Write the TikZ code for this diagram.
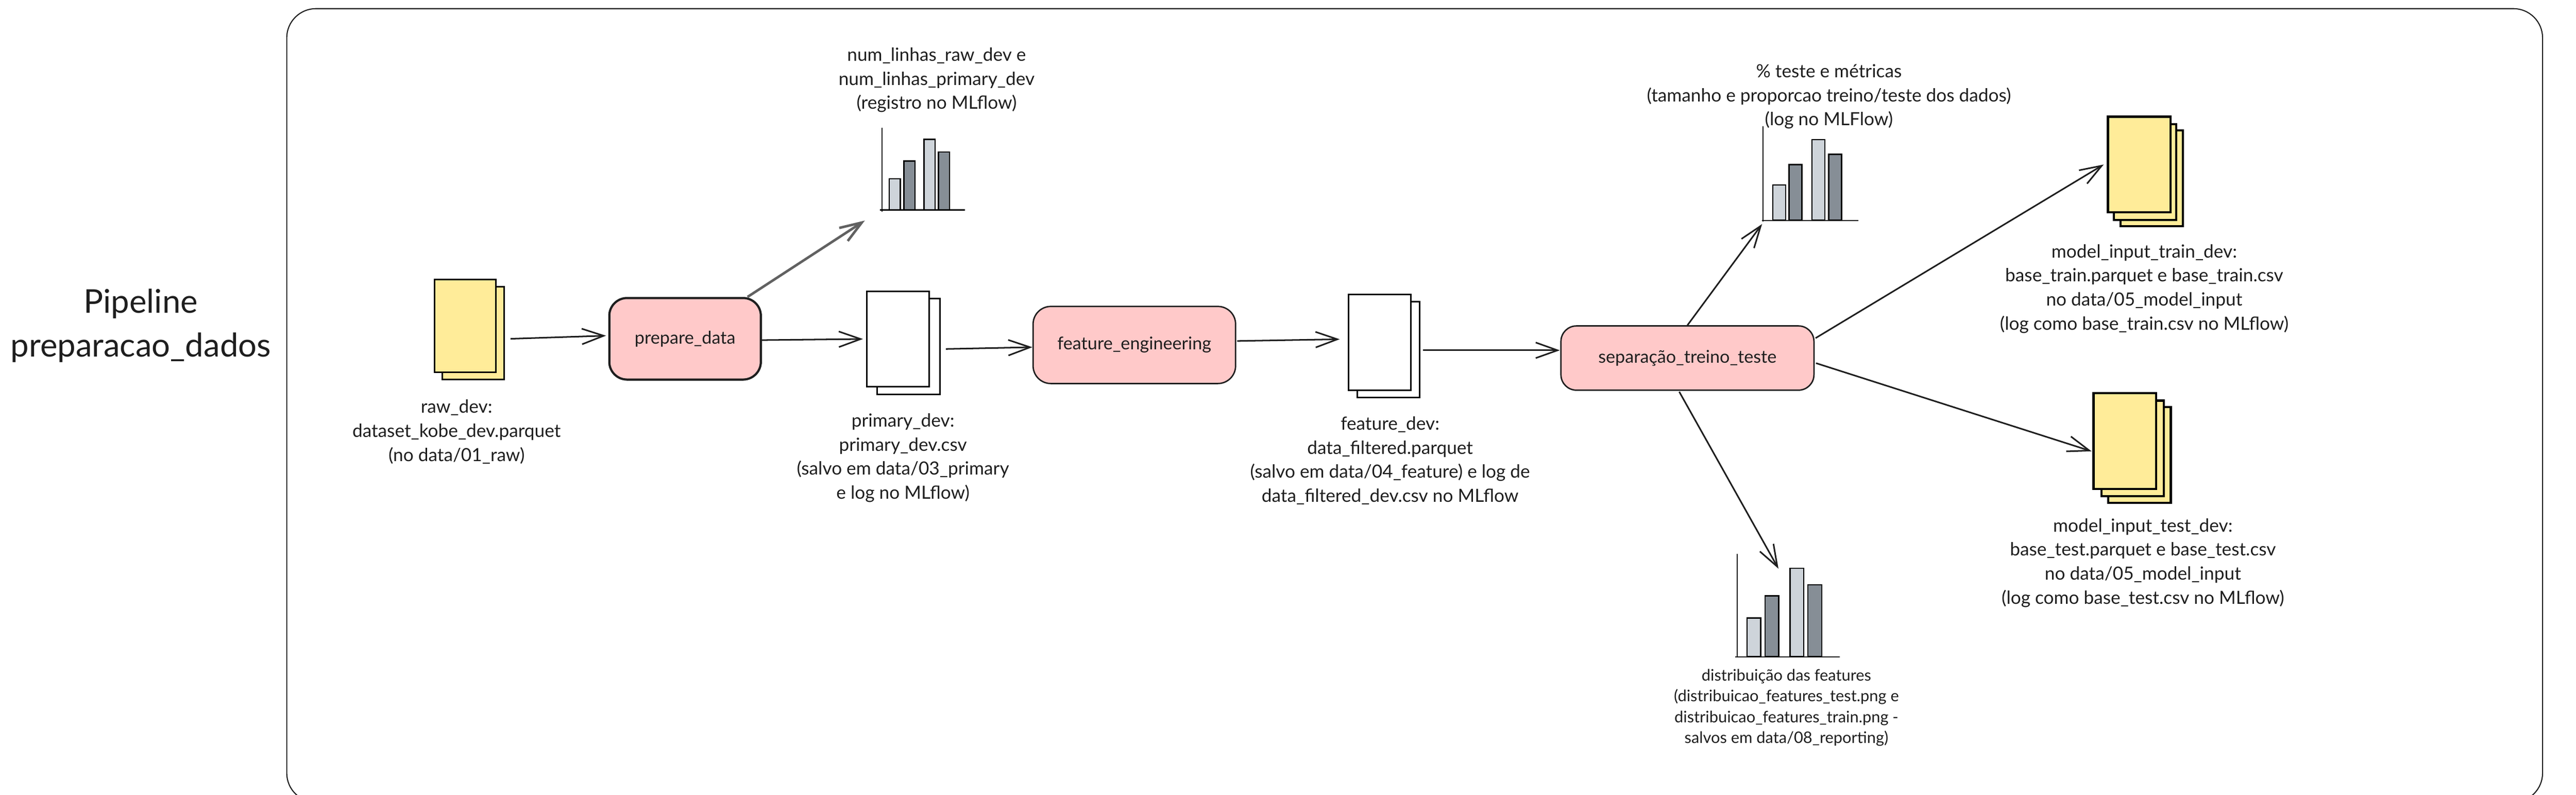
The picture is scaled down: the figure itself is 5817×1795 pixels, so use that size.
\documentclass[tikz,border=0pt]{standalone}
\usepackage{fontspec}
\setmainfont{Lato}
\usetikzlibrary{arrows.meta,positioning}

\definecolor{ink}{HTML}{1E1E1E}
\definecolor{paper}{HTML}{FFEC99}
\definecolor{rose}{HTML}{FFC9C9}
\definecolor{barlight}{HTML}{CED4DA}
\definecolor{bardark}{HTML}{868E96}

\begin{document}
\begin{tikzpicture}[x=0.01cm, y=-0.01cm]
			\tikzstyle{Frame}	= [draw=ink, line width=0.7pt, rounded corners=0.66cm, minimum width=50.91cm, minimum height=17.91cm, inner sep=0pt]
			\tikzstyle{Task}	= [draw=ink, fill=rose, rounded corners=0.4cm, inner sep=0pt, text=ink, font=\fontsize{11.3}{13}\selectfont]
			\tikzstyle{Sheet}	= [draw=black, fill=white, line width=1pt, minimum width=1.41cm, minimum height=2.16cm, inner sep=0pt]
			\tikzstyle{Yellow}	= [fill=paper]
			\tikzstyle{Heavy}	= [line width=1.4pt]
			\tikzstyle{Bar}		= [draw=black, line width=0.8pt, anchor=south, inner sep=0pt]
			\tikzstyle{Light}	= [fill=barlight]
			\tikzstyle{Dark}	= [fill=bardark]
			\tikzstyle{Axis}	= [draw=black, line width=0.8pt]
			\tikzstyle{Flow}	= [draw=ink, line width=1pt, -{Straight Barb[length=14pt, width=10pt]}]
			\tikzstyle{Faded}	= [draw=ink!70, line width=1.6pt]
			\tikzstyle{Caption}	= [align=center, text=ink, inner sep=0pt, font=\fontsize{11.66}{15.4}\selectfont]
			\tikzstyle{Small}	= [font=\fontsize{10.2}{13.4}\selectfont]
			\tikzstyle{Title}	= [align=center, text=ink, inner sep=0pt, font=\fontsize{21}{28}\selectfont]

			\useasboundingbox (0,0) rectangle (5817,1795);

			\node (frame) at (3194.5,915.5) [Frame] {};
			\node (title) at (318,735) [Title] {Pipeline\\preparacao\_dados};

			\node (rawback) at (1068.5,752) [Sheet][Yellow][minimum width=1.39cm, minimum height=2.10cm] {};
			\node (rawfront) at (1050.5,736) [Sheet][Yellow][minimum width=1.39cm, minimum height=2.10cm] {};
			\node (rawtext) at (1031,975) [Caption] {raw\_dev:\\dataset\_kobe\_dev.parquet\\(no data/01\_raw)};

			\node (prepare) at (1547,765) [Task][line width=1.4pt, minimum width=3.42cm, minimum height=1.84cm] {prepare\_data};

			\node (primback) at (2051.5,782) [Sheet] {};
			\node (primfront) at (2028,765.5) [Sheet] {};
			\node (primtext) at (2039,1034) [Caption] {primary\_dev:\\primary\_dev.csv\\(salvo em data/03\_primary\\e log no MLflow)};

			\node (feature) at (2561.5,779) [Task][line width=0.9pt, minimum width=4.57cm, minimum height=1.74cm] {feature\_engineering};

			\node (featback) at (3135,789) [Sheet] {};
			\node (featfront) at (3115.5,773) [Sheet] {};
			\node (feattext) at (3139,1040) [Caption] {feature\_dev:\\data\_filtered.parquet\\(salvo em data/04\_feature) e log de\\data\_filtered\_dev.csv no MLflow};

			\node (split) at (3810.5,808.5) [Task][line width=0.9pt, rounded corners=0.35cm, minimum width=5.71cm, minimum height=1.45cm] {separação\_treino\_teste};

			\node (trainback) at (4859,402.5) [Sheet][Yellow][Heavy] {};
			\node (trainmid) at (4844,388.5) [Sheet][Yellow][Heavy] {};
			\node (trainfront) at (4830.5,371.5) [Sheet][Yellow][Heavy] {};
			\node (traintext) at (4842,652) [Caption] {model\_input\_train\_dev:\\base\_train.parquet e base\_train.csv\\no data/05\_model\_input\\(log como base\_train.csv no MLflow)};

			\node (testback) at (4831.5,1027) [Sheet][Yellow][Heavy] {};
			\node (testmid) at (4816,1012.5) [Sheet][Yellow][Heavy] {};
			\node (testfront) at (4798,996) [Sheet][Yellow][Heavy] {};
			\node (testtext) at (4839,1271) [Caption] {model\_input\_test\_dev:\\base\_test.parquet e base\_test.csv\\no data/05\_model\_input\\(log como base\_test.csv no MLflow)};

			\coordinate (lines-top) at (1992,289);
			\coordinate (lines-bot) at (1992,478);
			\coordinate (lines-left) at (1987,474);
			\coordinate (lines-right) at (2179,474);
			\draw [Axis] (lines-top) -- (lines-bot);
			\draw [Axis] (lines-left) -- (lines-right);
			\node (lines1) at (2020.5,475) [Bar][Light][minimum width=0.25cm, minimum height=0.70cm] {};
			\node (lines2) at (2053.5,475) [Bar][Dark][minimum width=0.25cm, minimum height=1.10cm] {};
			\node (lines3) at (2099,475) [Bar][Light][minimum width=0.25cm, minimum height=1.59cm] {};
			\node (lines4) at (2131.5,475) [Bar][Dark][minimum width=0.25cm, minimum height=1.30cm] {};
			\node (linestext) at (2115,181) [Caption] {num\_linhas\_raw\_dev e\\num\_linhas\_primary\_dev\\(registro no MLflow)};

			\coordinate (ratio-top) at (3981,285);
			\coordinate (ratio-bot) at (3981,500);
			\coordinate (ratio-left) at (3979,498);
			\coordinate (ratio-right) at (4196,498);
			\draw [Axis] (ratio-top) -- (ratio-bot);
			\draw [Axis] (ratio-left) -- (ratio-right);
			\node (ratio1) at (4017.5,499) [Bar][Light][minimum width=0.29cm, minimum height=0.80cm] {};
			\node (ratio2) at (4054.5,499) [Bar][Dark][minimum width=0.29cm, minimum height=1.26cm] {};
			\node (ratio3) at (4106,499) [Bar][Light][minimum width=0.29cm, minimum height=1.82cm] {};
			\node (ratio4) at (4144,499) [Bar][Dark][minimum width=0.29cm, minimum height=1.49cm] {};
			\node (ratiotext) at (4130,218) [Caption] {\% teste e métricas\\(tamanho e proporcao treino/teste dos dados)\\(log no MLFlow)};

			\coordinate (dist-top) at (3923,1251);
			\coordinate (dist-bot) at (3923,1485);
			\coordinate (dist-left) at (3918,1483);
			\coordinate (dist-right) at (4155,1483);
			\draw [Axis] (dist-top) -- (dist-bot);
			\draw [Axis] (dist-left) -- (dist-right);
			\node (dist1) at (3960.5,1484) [Bar][Light][minimum width=0.31cm, minimum height=0.87cm] {};
			\node (dist2) at (4001,1484) [Bar][Dark][minimum width=0.31cm, minimum height=1.37cm] {};
			\node (dist3) at (4057.5,1484) [Bar][Light][minimum width=0.31cm, minimum height=1.99cm] {};
			\node (dist4) at (4098,1484) [Bar][Dark][minimum width=0.31cm, minimum height=1.62cm] {};
			\node (disttext) at (4034,1598) [Caption][Small] {distribuição das features\\(distribuicao\_features\_test.png e\\distribuicao\_features\_train.png -\\salvos em data/08\_reporting)};

			\draw [Flow] ([shift={(13,13)}]rawback.east) to ([shift={(-5,-7)}]prepare.west);
			\draw [Flow] ([shift={(-2,3)}]prepare.east) to ([shift={(-7,0)}]primfront.west);
			\draw [Flow] ([shift={(12,6)}]primback.east) to ([shift={(0,5)}]feature.west);
			\draw [Flow] ([shift={(2,-9)}]feature.east) to ([shift={(-18,-7)}]featfront.west);
			\draw [Flow] ([shift={(6,2)}]featback.east) to ([shift={(-1,-17.5)}]split.west);
			\draw [Flow][Faded] ([shift={(141,0)}]prepare.north) to ([shift={(-34,24)}]lines-left);
			\draw [Flow] (split.north) to ([shift={(0,8)}]ratio-left);
			\draw [Flow] ([shift={(2,-45)}]split.east) to ([shift={(-7,0)}]trainfront.west);
			\draw [Flow] ([shift={(3,11.5)}]split.east) to ([shift={(-2,23)}]testfront.west);
			\draw [Flow] ([shift={(-18.5,2)}]split.south) to ([shift={(15,-60)}]dist2.north);
		\end{tikzpicture}
\end{document}
